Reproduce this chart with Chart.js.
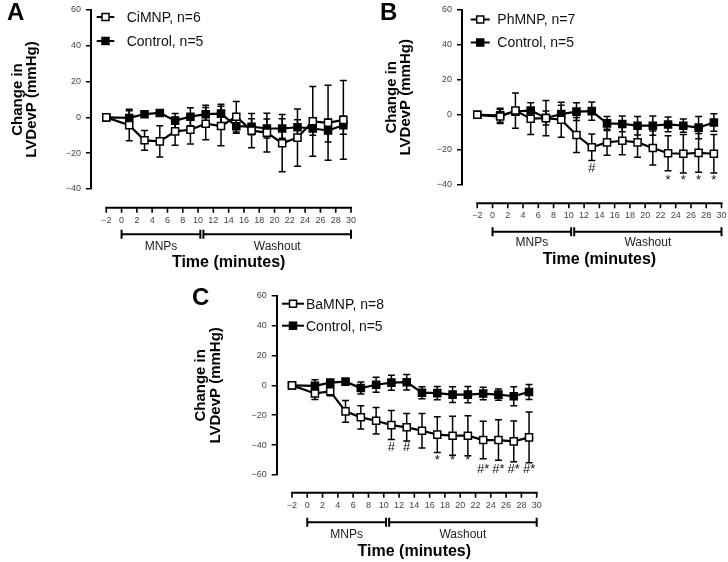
<!DOCTYPE html>
<html>
<head>
<meta charset="utf-8">
<script src="https://cdn.jsdelivr.net/npm/chart.js@4/dist/chart.umd.min.js"></script>
<style>
  body { margin: 0; background: #fff; }
  #wrap { position: relative; width: 728px; height: 562px; overflow: hidden; }
  canvas { position: absolute; }
</style>
</head>
<body>
<div id="wrap">
  <canvas id="panelA" width="364" height="275" style="left:0;top:0"></canvas>
  <canvas id="panelB" width="364" height="275" style="left:364px;top:0"></canvas>
  <canvas id="panelC" width="380" height="282" style="left:180px;top:280px"></canvas>
</div>
<script>
// sampling times (minutes)
const timePoints = [-2, 1, 3, 5, 7, 9, 11, 13, 15, 17, 19, 21, 23, 25, 27, 29];
const xTicks = [-2, 0, 2, 4, 6, 8, 10, 12, 14, 16, 18, 20, 22, 24, 26, 28, 30];
const phaseNames = ['MNPs', 'Washout'];
const phaseStart = [0, 10.7];
const phaseEnd = [10.3, 30];

// control group is the same in all three panels
const controlMean = [0, -0.3, 1.8, 2.5, -1.8, 0.4, 1.8, 2.1, -4.9, -5.2, -6.2, -6.2, -5.5, -6.2, -7.3, -4.4];
const controlErr = [0, 4, 1, 1.2, 4, 5, 5, 5.2, 4, 4.5, 5.3, 5.5, 4.2, 3.8, 6.4, 5];

const ciMean = [0, -4.3, -12.8, -13.4, -7.8, -6.9, -3.5, -4.8, 0.4, -7.4, -8.5, -14.4, -11.3, -2.2, -3, -1.4];
const ciErr = [0, 8.8, 5.5, 8.7, 7.8, 8, 9, 11, 8.5, 9.6, 10.8, 16, 16, 19.5, 21, 22];

const phMean = [0, -1, 2.4, -2.2, -1.9, -2.8, -11.5, -18.5, -15.7, -14.8, -15.7, -18.9, -21.9, -22.2, -21.7, -22.2];
const phErr = [0, 4, 10, 9, 10, 10, 10, 7.5, 7.4, 8, 8.5, 9.7, 10, 11, 11, 11];
const phMarkX = [13, 23, 25, 27, 29];
const phMarkY = [-30.5, -35.5, -35.5, -35.5, -35.5];
const phMarkText = ['#', '*', '*', '*', '*'];

const baMean = [0, -5.4, -4, -17.4, -21.4, -23.7, -26.6, -28.1, -30.4, -33, -33.7, -33.7, -36.6, -36.6, -37.5, -34.8];
const baErr = [0, 4, 3, 7.3, 7.8, 8.9, 9.7, 9.2, 11.6, 12, 13, 13.4, 12.6, 13.6, 13.7, 17];
const baMarkX = [11, 13, 17, 19, 21, 23, 25, 27, 29];
const baMarkY = [-41.5, -41.5, -48.2, -48.2, -48.2, -56, -56, -56, -56];
const baMarkText = ['#', '#', '*', '*', '*', '#*', '#*', '#*', '#*'];

const FONT = 'Liberation Sans, Arial, Helvetica, sans-serif';
const minus = v => String(v).replace('-', '\u2212');

const panelExtras = {
  id: 'panelExtras',
  beforeDatasetsDraw(chart) {
    const {ctx, scales: {x, y}} = chart;
    ctx.save();
    ctx.strokeStyle = '#000';
    ctx.lineWidth = 1.5;
    chart.data.datasets.forEach(ds => {
      ds.data.forEach((p, j) => {
        const e = ds.errors[j];
        if (!e) return;
        const px = x.getPixelForValue(p.x);
        const top = y.getPixelForValue(p.y + e);
        const bot = y.getPixelForValue(p.y - e);
        ctx.beginPath();
        ctx.moveTo(px, top); ctx.lineTo(px, bot);
        ctx.moveTo(px - 3.5, top); ctx.lineTo(px + 3.5, top);
        ctx.moveTo(px - 3.5, bot); ctx.lineTo(px + 3.5, bot);
        ctx.stroke();
      });
    });
    ctx.restore();
  },
  afterDraw(chart, args, opts) {
    const {ctx, chartArea, scales: {x, y}} = chart;
    ctx.save();

    // significance marks ('*' sits high in the glyph box, so push it down)
    ctx.fillStyle = '#111';
    ctx.font = '13px ' + FONT;
    ctx.textAlign = 'center';
    ctx.textBaseline = 'middle';
    (opts.markX || []).forEach((mx, i) => {
      const t = opts.markText[i];
      const dy = t === '*' ? 3 : 0;
      ctx.fillText(t, x.getPixelForValue(mx), y.getPixelForValue(opts.markY[i]) + dy);
    });

    // detached time axis
    const ay = chartArea.bottom + opts.gap;
    const x0 = x.getPixelForValue(xTicks[0]);
    const x1 = x.getPixelForValue(xTicks[xTicks.length - 1]);
    ctx.strokeStyle = '#000';
    ctx.lineWidth = 2;
    ctx.beginPath();
    ctx.moveTo(x0 - 1, ay); ctx.lineTo(x1 + 1, ay);
    ctx.stroke();
    ctx.lineWidth = 1.6;
    ctx.beginPath();
    xTicks.forEach(t => {
      const px = x.getPixelForValue(t);
      ctx.moveTo(px, ay); ctx.lineTo(px, ay + 5);
    });
    ctx.stroke();
    ctx.fillStyle = '#444';
    ctx.font = '9px ' + FONT;
    xTicks.forEach(t => {
      const txt = minus(t);
      const w = ctx.measureText(txt).width;
      // keep the last label inside the canvas
      const px = Math.min(x.getPixelForValue(t), chart.width - w / 2 - 1);
      ctx.fillText(txt, px, ay + opts.labelDy);
    });

    // phase brackets
    const by = ay + opts.bracketDy;
    ctx.lineWidth = 2;
    phaseNames.forEach((name, i) => {
      const a = x.getPixelForValue(phaseStart[i]);
      const b = x.getPixelForValue(phaseEnd[i]);
      ctx.beginPath();
      ctx.moveTo(a, by); ctx.lineTo(b, by);
      ctx.moveTo(a, by - 4.5); ctx.lineTo(a, by + 4.5);
      ctx.moveTo(b, by - 4.5); ctx.lineTo(b, by + 4.5);
      ctx.stroke();
      ctx.fillStyle = '#222';
      ctx.font = '12px ' + FONT;
      ctx.fillText(name, (a + b) / 2, ay + opts.phaseDy);
    });

    ctx.fillStyle = '#000';
    ctx.font = 'bold 16px ' + FONT;
    ctx.fillText('Time (minutes)', x.getPixelForValue(14), ay + opts.titleDy);

    // legend
    const lg = opts.legend;
    chart.data.datasets.forEach((ds, i) => {
      const cx = chartArea.left + lg.dx;
      const cy = chartArea.top + lg.dy + i * lg.rowGap;
      ctx.strokeStyle = '#000';
      ctx.lineWidth = 2;
      ctx.beginPath();
      ctx.moveTo(cx - lg.half, cy); ctx.lineTo(cx + lg.half, cy);
      ctx.stroke();
      ctx.fillStyle = ds.pointBackgroundColor;
      ctx.fillRect(cx - 3.5, cy - 3.5, 7, 7);
      ctx.lineWidth = 1.5;
      ctx.strokeRect(cx - 3.5, cy - 3.5, 7, 7);
      ctx.fillStyle = '#111';
      ctx.font = '14px ' + FONT;
      ctx.textAlign = 'left';
      ctx.fillText(ds.label, chartArea.left + lg.textDx, cy + 1);
      ctx.textAlign = 'center';
    });

    // panel letter
    ctx.fillStyle = '#000';
    ctx.font = 'bold 24px ' + FONT;
    ctx.textAlign = 'left';
    ctx.textBaseline = 'alphabetic';
    ctx.fillText(opts.letter, opts.letterX, opts.letterY);
    ctx.restore();
  }
};

const series = (mean, err, label, fill) => ({
  label: label,
  data: timePoints.map((t, i) => ({x: t, y: mean[i]})),
  errors: err,
  borderColor: '#000',
  borderWidth: 2.2,
  tension: 0,
  pointStyle: 'rect',
  pointRadius: 5,
  pointBackgroundColor: fill,
  pointBorderColor: '#000',
  pointBorderWidth: 1.5
});

function makePanel(id, cfg) {
  return new Chart(document.getElementById(id), {
    type: 'line',
    data: {
      datasets: [
        series(cfg.mean, cfg.err, cfg.label, '#fff'),
        series(controlMean, controlErr, 'Control, n=5', '#000')
      ]
    },
    options: {
      responsive: false,
      animation: false,
      events: [],
      layout: {padding: cfg.padding},
      scales: {
        x: {type: 'linear', min: -4, max: 30, display: false},
        y: {
          min: cfg.yMin,
          max: 60,
          afterFit: s => { s.width = cfg.axisWidth; },
          border: {display: true, color: '#000', width: 2},
          grid: {drawOnChartArea: false, drawTicks: true, tickLength: 5, color: '#000', lineWidth: 1.5},
          ticks: {
            stepSize: 20,
            padding: 5,
            color: '#444',
            font: {family: FONT, size: 9, lineHeight: 1},
            callback: v => minus(v)
          },
          title: {
            display: true,
            text: ['Change in', 'LVDevP (mmHg)'],
            color: '#000',
            font: {family: FONT, size: 15, weight: 'bold', lineHeight: 0.95},
            padding: {top: cfg.titlePad, bottom: 0}
          }
        }
      },
      plugins: {
        legend: {display: false},
        tooltip: {enabled: false},
        panelExtras: cfg.extras
      }
    },
    plugins: [panelExtras]
  });
}

makePanel('panelA', {
  mean: ciMean, err: ciErr, label: 'CiMNP, n=6', yMin: -40,
  padding: {left: 0, top: 10, right: 13, bottom: 86},
  axisWidth: 91, titlePad: 10.6,
  extras: {
    gap: 18.7, labelDy: 13.3, bracketDy: 26.6, phaseDy: 39, titleDy: 55.3,
    legend: {dx: 14.5, dy: 7, rowGap: 24, half: 8.8, textDx: 35.7},
    letter: 'A', letterX: 7, letterY: 20
  }
});

makePanel('panelB', {
  mean: phMean, err: phErr, label: 'PhMNP, n=7', yMin: -40,
  padding: {left: 0, top: 5, right: 4, bottom: 90},
  axisWidth: 98, titlePad: 20.4,
  extras: {
    gap: 18.3, labelDy: 12.7, bracketDy: 28.4, phaseDy: 39.7, titleDy: 56.7,
    markX: phMarkX, markY: phMarkY, markText: phMarkText,
    legend: {dx: 18.2, dy: 10, rowGap: 23, half: 9.5, textDx: 35.3},
    letter: 'B', letterX: 16, letterY: 20
  }
});

makePanel('panelC', {
  mean: baMean, err: baErr, label: 'BaMNP, n=8', yMin: -60,
  padding: {left: 0, top: 15.7, right: 23.3, bottom: 87},
  axisWidth: 96.7, titlePad: 14,
  extras: {
    gap: 17.7, labelDy: 13.3, bracketDy: 29.6, phaseDy: 42.3, titleDy: 59,
    markX: baMarkX, markY: baMarkY, markText: baMarkText,
    legend: {dx: 16.3, dy: 8, rowGap: 22, half: 11, textDx: 29.3},
    letter: 'C', letterX: 12, letterY: 25
  }
});
</script>
</body>
</html>
